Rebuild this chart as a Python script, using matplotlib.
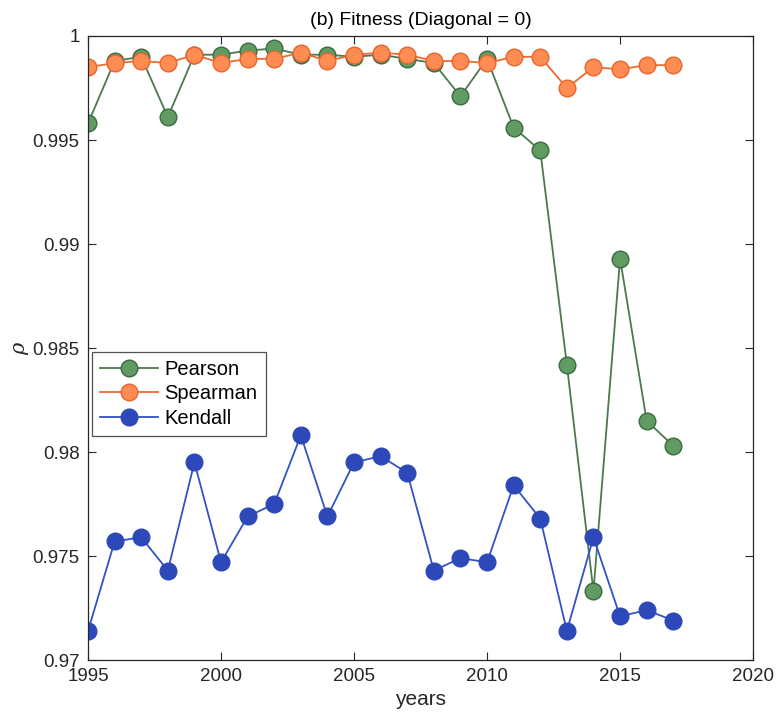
import matplotlib
matplotlib.use("Agg")
import matplotlib.pyplot as plt

plt.rcParams['font.family'] = ['Liberation Sans', 'DejaVu Sans']
plt.rcParams['mathtext.fontset'] = 'dejavuserif'

years = list(range(1995, 2018))
pearson = [0.9958, 0.9988, 0.9990, 0.9961, 0.9991, 0.9991, 0.9993, 0.9994, 0.9991, 0.9991,
           0.9990, 0.9991, 0.9989, 0.9987, 0.9971, 0.9989, 0.9956, 0.9945, 0.9842, 0.9733,
           0.9893, 0.9815, 0.9803]
spearman = [0.9985, 0.9987, 0.9988, 0.9987, 0.9991, 0.9987, 0.9989, 0.9989, 0.9992, 0.9988,
            0.9991, 0.9992, 0.9991, 0.9988, 0.9988, 0.9987, 0.9990, 0.9990, 0.9975, 0.9985,
            0.9984, 0.9986, 0.9986]
kendall = [0.9714, 0.9757, 0.9759, 0.9743, 0.9795, 0.9747, 0.9769, 0.9775, 0.9808, 0.9769,
           0.9795, 0.9798, 0.9790, 0.9743, 0.9749, 0.9747, 0.9784, 0.9768, 0.9714, 0.9759,
           0.9721, 0.9724, 0.9719]
xticks = [1995, 2000, 2005, 2010, 2015, 2020]
yticks = [0.97, 0.975, 0.98, 0.985, 0.99, 0.995, 1.0]
yticklabels = ['0.97', '0.975', '0.98', '0.985', '0.99', '0.995', '1']

fig = plt.figure(figsize=(7.79, 7.2), dpi=100)
ax = fig.add_axes([0.113, 0.0833, 0.8537, 0.8667])

ms = 12
ax.plot(years, pearson, '-o', color='#4a7a4d', lw=1.3, ms=ms,
        markerfacecolor='#5f9b62', markeredgecolor='#3d6b40', markeredgewidth=1.0, label='Pearson')
ax.plot(years, spearman, '-o', color='#ee6a2e', lw=1.3, ms=ms,
        markerfacecolor='#ff8c52', markeredgecolor='#e8652d', markeredgewidth=1.0, label='Spearman')
ax.plot(years, kendall, '-o', color='#3352c4', lw=1.3, ms=ms,
        markerfacecolor='#2c48b9', markeredgecolor='#2c48b9', markeredgewidth=1.0, label='Kendall')

ax.set_xlim(1995, 2020)
ax.set_ylim(0.97, 1.0)
ax.set_xticks(xticks)
ax.set_yticks(yticks)
ax.set_yticklabels(yticklabels)
ax.tick_params(direction='in', top=True, right=True, labelsize=13.5, colors='#262626',
               length=6, width=0.8, pad=6)
for s in ax.spines.values():
    s.set_color('#262626')
    s.set_linewidth(0.9)

ax.set_xlabel('years', fontsize=15, color='#262626', labelpad=3)
ax.set_ylabel(r'$\rho$', fontsize=15, color='#262626', labelpad=1)
ax.set_title('(b) Fitness (Diagonal = 0)', fontsize=14, color='black', pad=8)

leg = ax.legend(loc='upper left', bbox_to_anchor=(0.006, 0.494), borderaxespad=0,
                fontsize=14.5, frameon=True, fancybox=False, edgecolor='#262626',
                handlelength=2.9, handletextpad=0.3, labelspacing=0.28, borderpad=0.4)
leg.get_frame().set_linewidth(0.9)

fig.savefig('out.png', dpi=100)
